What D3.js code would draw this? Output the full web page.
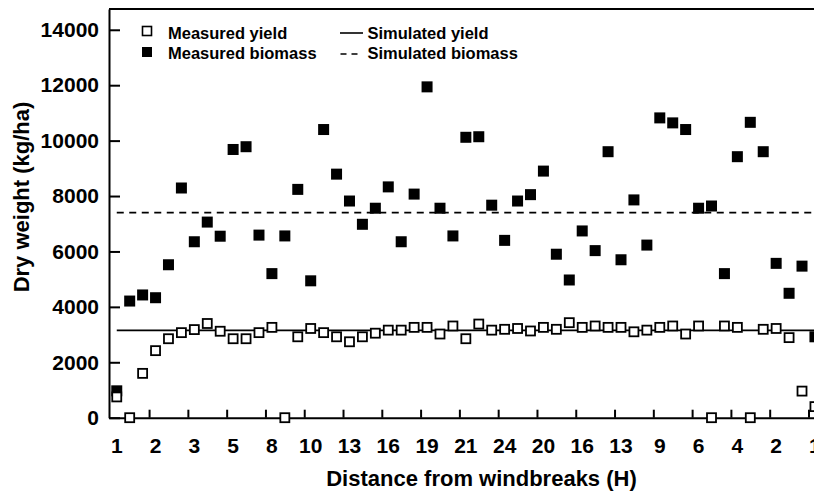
<!DOCTYPE html>
<html>
<head>
<meta charset="utf-8">
<script src="https://cdn.jsdelivr.net/npm/d3@7"></script>
<style>
  html, body { margin: 0; padding: 0; background: #fff; overflow: hidden; }
  svg { display: block; }
  text { font-family: "Liberation Sans", Arial, Helvetica, sans-serif; font-weight: bold; fill: #000; }
</style>
</head>
<body>
<svg id="chart" width="814" height="492"></svg>
<script>
// ---- data ----
const distanceLabels = ["1","2","3","5","8","10","13","16","19","21","24","20","16","13","9","6","4","2","1"];
const yTickValues = [0, 2000, 4000, 6000, 8000, 10000, 12000, 14000];
const measuredYield = [
  750, 0, 1600, 2420, 2850, 3070, 3180, 3400, 3120, 2850,
  2850, 3070, 3260, 0, 2920, 3220, 3070, 2920, 2740, 2920,
  3050, 3160, 3160, 3260, 3260, 3020, 3310, 2850, 3380, 3160,
  3190, 3220, 3130, 3260, 3190, 3430, 3260, 3310, 3260, 3260,
  3100, 3160, 3260, 3310, 3020, 3310, 0, 3310, 3260, 0,
  3190, 3220, 2890, 960, 400
];
const measuredBiomass = [
  970, 4210, 4430, 4330, 5520, 8290, 6350, 7060, 6550, 9680,
  9780, 6590, 5200, 6560, 8240, 4940, 10400, 8790, 7820, 6980,
  7560, 8330, 6350, 8070, 11940, 7560, 6560, 10120, 10140, 7670,
  6400, 7820, 8050, 8900, 5900, 4970, 6740, 6030, 9600, 5700,
  7860, 6230, 10820, 10640, 10400, 7560, 7640, 5200, 9420, 10660,
  9600, 5570, 4490, 5470, 2920
];
const simulatedYield = 3150;
const simulatedBiomass = 7400;
const legendItems = ["Measured yield", "Measured biomass", "Simulated yield", "Simulated biomass"];

// ---- layout ----
const svg = d3.select("#chart");
const plot = { left: 109, top: 9, bottom: 417.7, right: 822.7 };
const n = measuredYield.length;

const x = d3.scaleLinear().domain([-0.6, n - 1 + 0.6]).range([plot.left, plot.right]);
const y = d3.scaleLinear().domain([0, 14750]).range([plot.bottom, plot.top]);

const labelIdx = distanceLabels.map((d, i) => i * 3);
const tickIdx = d3.range(distanceLabels.length - 1).map(i => i * 3 + 2.5);

// top frame
svg.append("line")
  .attr("x1", plot.left).attr("x2", plot.right)
  .attr("y1", plot.top).attr("y2", plot.top)
  .attr("stroke", "#000").attr("stroke-width", 2);

// left axis
const yAxis = d3.axisLeft(y).tickValues(yTickValues).tickSizeInner(-11).tickSizeOuter(0).tickPadding(10)
  .tickFormat(d3.format("d"));
const gy = svg.append("g").attr("transform", `translate(${plot.left},0)`).call(yAxis);
gy.select(".domain").attr("stroke-width", 2);
gy.selectAll(".tick line").attr("stroke-width", 2);
gy.selectAll(".tick text").attr("font-size", 21).attr("font-weight", "bold")
  .attr("font-family", "Liberation Sans, Arial, sans-serif").attr("fill", "#000");

// bottom axis (ticks between labelled positions)
const xAxis = d3.axisBottom(x).tickValues(tickIdx).tickSizeInner(-8).tickSizeOuter(0).tickFormat("");
const gx = svg.append("g").attr("transform", `translate(0,${plot.bottom})`).call(xAxis);
gx.select(".domain").attr("stroke-width", 2);
gx.selectAll(".tick line").attr("stroke-width", 2);

// bottom labels
svg.append("g").selectAll("text").data(distanceLabels).join("text")
  .attr("x", (d, i) => x(labelIdx[i]))
  .attr("y", 453)
  .attr("text-anchor", "middle")
  .attr("font-size", 21)
  .text(d => d);

// simulated lines
svg.append("line")
  .attr("x1", x(0)).attr("x2", x(n - 1))
  .attr("y1", y(simulatedYield)).attr("y2", y(simulatedYield))
  .attr("stroke", "#000").attr("stroke-width", 1.8);
svg.append("line")
  .attr("x1", x(0)).attr("x2", x(n - 1))
  .attr("y1", y(simulatedBiomass)).attr("y2", y(simulatedBiomass))
  .attr("stroke", "#000").attr("stroke-width", 1.8).attr("stroke-dasharray", "7,5.5");

// biomass filled squares
const fs = 11;
svg.append("g").selectAll("rect").data(measuredBiomass).join("rect")
  .attr("x", (d, i) => x(i) - fs / 2)
  .attr("y", d => y(d) - fs / 2)
  .attr("width", fs).attr("height", fs)
  .attr("fill", "#000");

// yield open squares
const os = 9;
svg.append("g").selectAll("rect").data(measuredYield).join("rect")
  .attr("x", (d, i) => x(i) - os / 2)
  .attr("y", d => y(d) - os / 2)
  .attr("width", os).attr("height", os)
  .attr("fill", "#fff").attr("stroke", "#000").attr("stroke-width", 1.8);

// axis titles
svg.append("text")
  .attr("transform", "translate(28.5,197) rotate(-90)")
  .attr("text-anchor", "middle")
  .attr("font-size", 22)
  .text("Dry weight (kg/ha)");
svg.append("text")
  .attr("x", 481.5).attr("y", 486)
  .attr("text-anchor", "middle")
  .attr("font-size", 22)
  .text("Distance from windbreaks (H)");

// legend
const lg = svg.append("g");
lg.append("rect").attr("x", 142.5).attr("y", 26.5).attr("width", 9).attr("height", 9)
  .attr("fill", "#fff").attr("stroke", "#000").attr("stroke-width", 1.6);
lg.append("rect").attr("x", 142).attr("y", 47).attr("width", 10).attr("height", 10).attr("fill", "#000");
lg.append("text").attr("x", 168).attr("y", 38.5).attr("font-size", 16.5).text(legendItems[0]);
lg.append("text").attr("x", 168).attr("y", 59).attr("font-size", 16.5).text(legendItems[1]);
lg.append("line").attr("x1", 340).attr("x2", 363).attr("y1", 33).attr("y2", 33)
  .attr("stroke", "#000").attr("stroke-width", 1.6);
lg.append("line").attr("x1", 340.5).attr("x2", 361).attr("y1", 54).attr("y2", 54)
  .attr("stroke", "#000").attr("stroke-width", 1.6).attr("stroke-dasharray", "6,5");
lg.append("text").attr("x", 367.5).attr("y", 38.5).attr("font-size", 16.5).text(legendItems[2]);
lg.append("text").attr("x", 367.5).attr("y", 59).attr("font-size", 16.5).text(legendItems[3]);
</script>
</body>
</html>
